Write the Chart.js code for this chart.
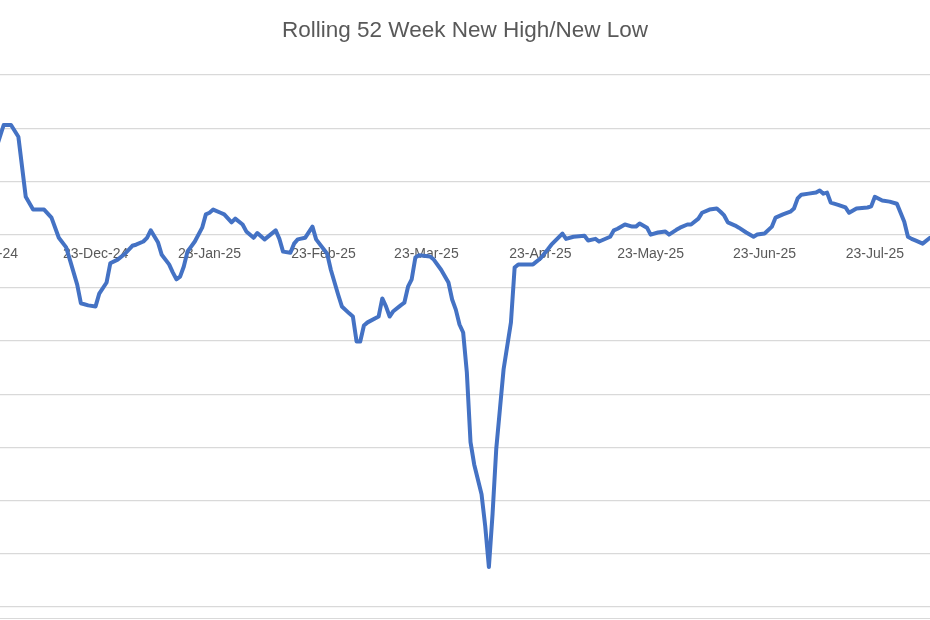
<!DOCTYPE html>
<html>
<head>
<meta charset="utf-8">
<title>Rolling 52 Week New High/New Low</title>
<script src="https://cdn.jsdelivr.net/npm/chart.js"></script>
<style>
  body { margin: 0; background: #fff; }
  #wrap { width: 930px; height: 620px; }
</style>
</head>
<body>
<div id="wrap"><canvas id="hlChart" width="930" height="620"></canvas></div>
<script>
// Net new highs minus new lows
const dates = [
  '2024-11-25','2024-11-28','2024-11-30','2024-12-02','2024-12-04','2024-12-06','2024-12-09','2024-12-11',
  '2024-12-13','2024-12-15','2024-12-16','2024-12-18','2024-12-19','2024-12-21','2024-12-23','2024-12-24',
  '2024-12-26','2024-12-27','2024-12-29','2024-12-31','2025-01-02','2025-01-03','2025-01-05','2025-01-06',
  '2025-01-07','2025-01-09','2025-01-10','2025-01-12','2025-01-13','2025-01-14','2025-01-15','2025-01-16',
  '2025-01-17','2025-01-19','2025-01-21','2025-01-22','2025-01-23','2025-01-24','2025-01-26','2025-01-27',
  '2025-01-29','2025-01-30','2025-02-01','2025-02-02','2025-02-04','2025-02-05','2025-02-07','2025-02-10',
  '2025-02-11','2025-02-12','2025-02-14','2025-02-15','2025-02-16','2025-02-18','2025-02-20','2025-02-21',
  '2025-02-24','2025-02-25','2025-02-27','2025-02-28','2025-03-02','2025-03-03','2025-03-04','2025-03-05',
  '2025-03-06','2025-03-07','2025-03-10','2025-03-11','2025-03-12','2025-03-13','2025-03-14','2025-03-16',
  '2025-03-17','2025-03-18','2025-03-19','2025-03-20','2025-03-21','2025-03-24','2025-03-25','2025-03-27',
  '2025-03-29','2025-03-30','2025-03-31','2025-04-01','2025-04-02','2025-04-03','2025-04-04','2025-04-05',
  '2025-04-07','2025-04-08','2025-04-09','2025-04-10','2025-04-11','2025-04-12','2025-04-13','2025-04-15',
  '2025-04-16','2025-04-17','2025-04-21','2025-04-23','2025-04-25','2025-04-26','2025-04-29','2025-04-30',
  '2025-05-02','2025-05-05','2025-05-06','2025-05-08','2025-05-09','2025-05-12','2025-05-13','2025-05-14',
  '2025-05-16','2025-05-18','2025-05-19','2025-05-20','2025-05-22','2025-05-23','2025-05-25','2025-05-27',
  '2025-05-28','2025-05-30','2025-05-31','2025-06-02','2025-06-03','2025-06-05','2025-06-06','2025-06-08',
  '2025-06-10','2025-06-11','2025-06-12','2025-06-13','2025-06-15','2025-06-16','2025-06-18','2025-06-20',
  '2025-06-21','2025-06-23','2025-06-25','2025-06-26','2025-06-28','2025-06-30','2025-07-01','2025-07-02',
  '2025-07-03','2025-07-05','2025-07-07','2025-07-08','2025-07-09','2025-07-10','2025-07-11','2025-07-13',
  '2025-07-15','2025-07-16','2025-07-18','2025-07-21','2025-07-22','2025-07-23','2025-07-25','2025-07-27',
  '2025-07-29','2025-07-30','2025-07-31','2025-08-01','2025-08-02','2025-08-03','2025-08-05','2025-08-07',
  '2025-08-08'
];
const netHighLow = [
  14.1, 20.6, 20.6, 18.4, 7.1, 4.7, 4.7, 3.2,
  -0.6, -2.4, -4.7, -9.4, -12.9, -13.3, -13.5, -11.1,
  -9.0, -5.4, -4.7, -3.6, -2.1, -1.9, -1.3, -0.6,
  0.8, -1.5, -3.8, -5.6, -7.1, -8.4, -7.9, -6.0,
  -3.2, -1.3, 1.3, 3.8, 4.1, 4.7, 4.1, 3.8,
  2.3, 3.0, 1.9, 0.6, -0.6, 0.3, -0.9, 0.8,
  -0.8, -3.2, -3.4, -1.7, -0.9, -0.6, 1.5, -0.9,
  -3.6, -6.6, -11.3, -13.5, -14.8, -15.4, -20.1, -20.1,
  -17.1, -16.5, -15.4, -12.0, -13.5, -15.4, -14.4, -13.3,
  -12.8, -9.8, -8.4, -4.3, -3.9, -4.1, -4.7, -6.6,
  -9.0, -12.2, -14.1, -16.9, -18.4, -25.9, -39.0, -43.2,
  -48.8, -54.8, -62.5, -52.5, -40.3, -32.8, -25.3, -16.5,
  -6.2, -5.6, -5.6, -4.5, -2.8, -1.9, 0.2, -0.8,
  -0.4, -0.2, -1.1, -0.8, -1.3, -0.4, 0.8, 1.1,
  1.9, 1.5, 1.5, 2.1, 1.3, 0.0, 0.4, 0.6,
  0.0, 0.9, 1.3, 1.9, 1.9, 3.0, 4.1, 4.7,
  4.9, 4.3, 3.6, 2.3, 1.7, 1.3, 0.4, -0.4,
  0.0, 0.2, 1.5, 3.2, 3.8, 4.3, 4.9, 6.8,
  7.5, 7.7, 7.9, 8.3, 7.7, 7.9, 6.0, 5.6,
  5.1, 4.1, 4.9, 5.1, 5.3, 7.1, 6.4, 6.2,
  5.8, 4.1, 2.4, -0.4, -0.8, -1.1, -1.7, -0.6,
  0.6
];
const tickDates = ['2024-11-23','2024-12-23','2025-01-23','2025-02-23','2025-03-23','2025-04-23','2025-05-23','2025-06-23','2025-07-23'];
const tickLabels = ['23-Nov-24','23-Dec-24','23-Jan-25','23-Feb-25','23-Mar-25','23-Apr-25','23-May-25','23-Jun-25','23-Jul-25'];
const viewStart = '2024-11-27';
const viewEnd = '2025-08-07';

// days since epoch, so the x axis works like a date axis
function dayNum(s) {
    const p = s.split('-');
    return Date.UTC(+p[0], +p[1] - 1, +p[2]) / 86400000;
}

const points = dates.map((d, i) => ({ x: dayNum(d), y: netHighLow[i] }));

// thin frame line along the bottom of the chart box
const frameLine = {
    id: 'frameLine',
    beforeDraw(chart) {
        const ctx = chart.ctx;
        ctx.save();
        ctx.strokeStyle = '#d9d9d9';
        ctx.lineWidth = 1;
        ctx.beginPath();
        ctx.moveTo(0, chart.height - 1.5);
        ctx.lineTo(chart.width, chart.height - 1.5);
        ctx.stroke();
        ctx.restore();
    }
};

const ctx = document.getElementById('hlChart').getContext('2d');
new Chart(ctx, {
    type: 'line',
    data: {
        datasets: [{
            label: 'Net New High/New Low',
            data: points,
            borderColor: '#4472C4',
            borderWidth: 4,
            pointRadius: 0,
            tension: 0,
            borderJoinStyle: 'round',
            borderCapStyle: 'round',
            fill: false
        }]
    },
    options: {
        responsive: false,
        animation: false,
        layout: { padding: { left: 0, right: 0, top: 0, bottom: 13 } },
        plugins: {
            legend: { display: false },
            tooltip: { enabled: false },
            title: {
                display: true,
                text: 'Rolling 52 Week New High/New Low',
                color: '#595959',
                font: { family: '"Liberation Sans", Arial, sans-serif', size: 22.5, weight: 'normal' },
                padding: { top: 17, bottom: 31 }
            }
        },
        scales: {
            x: {
                type: 'linear',
                position: { y: 0 },
                min: dayNum(viewStart),
                max: dayNum(viewEnd),
                afterBuildTicks: axis => {
                    axis.ticks = tickDates.map(d => ({ value: dayNum(d) }));
                },
                // let the first and last labels run off the edges instead of shrinking the plot
                afterFit: axis => {
                    axis.paddingLeft = 0;
                    axis.paddingRight = 0;
                },
                grid: { display: false, drawTicks: false },
                border: { display: false },
                ticks: {
                    autoSkip: false,
                    maxRotation: 0,
                    padding: 11,
                    color: '#595959',
                    font: { family: '"Liberation Sans", Arial, sans-serif', size: 14 },
                    callback: (value, index) => tickLabels[index]
                }
            },
            y: {
                min: -70,
                max: 30,
                ticks: { display: false, stepSize: 10 },
                grid: { color: '#d9d9d9', lineWidth: 1.3, drawTicks: false },
                border: { display: false }
            }
        }
    },
    plugins: [frameLine]
});
</script>
</body>
</html>
